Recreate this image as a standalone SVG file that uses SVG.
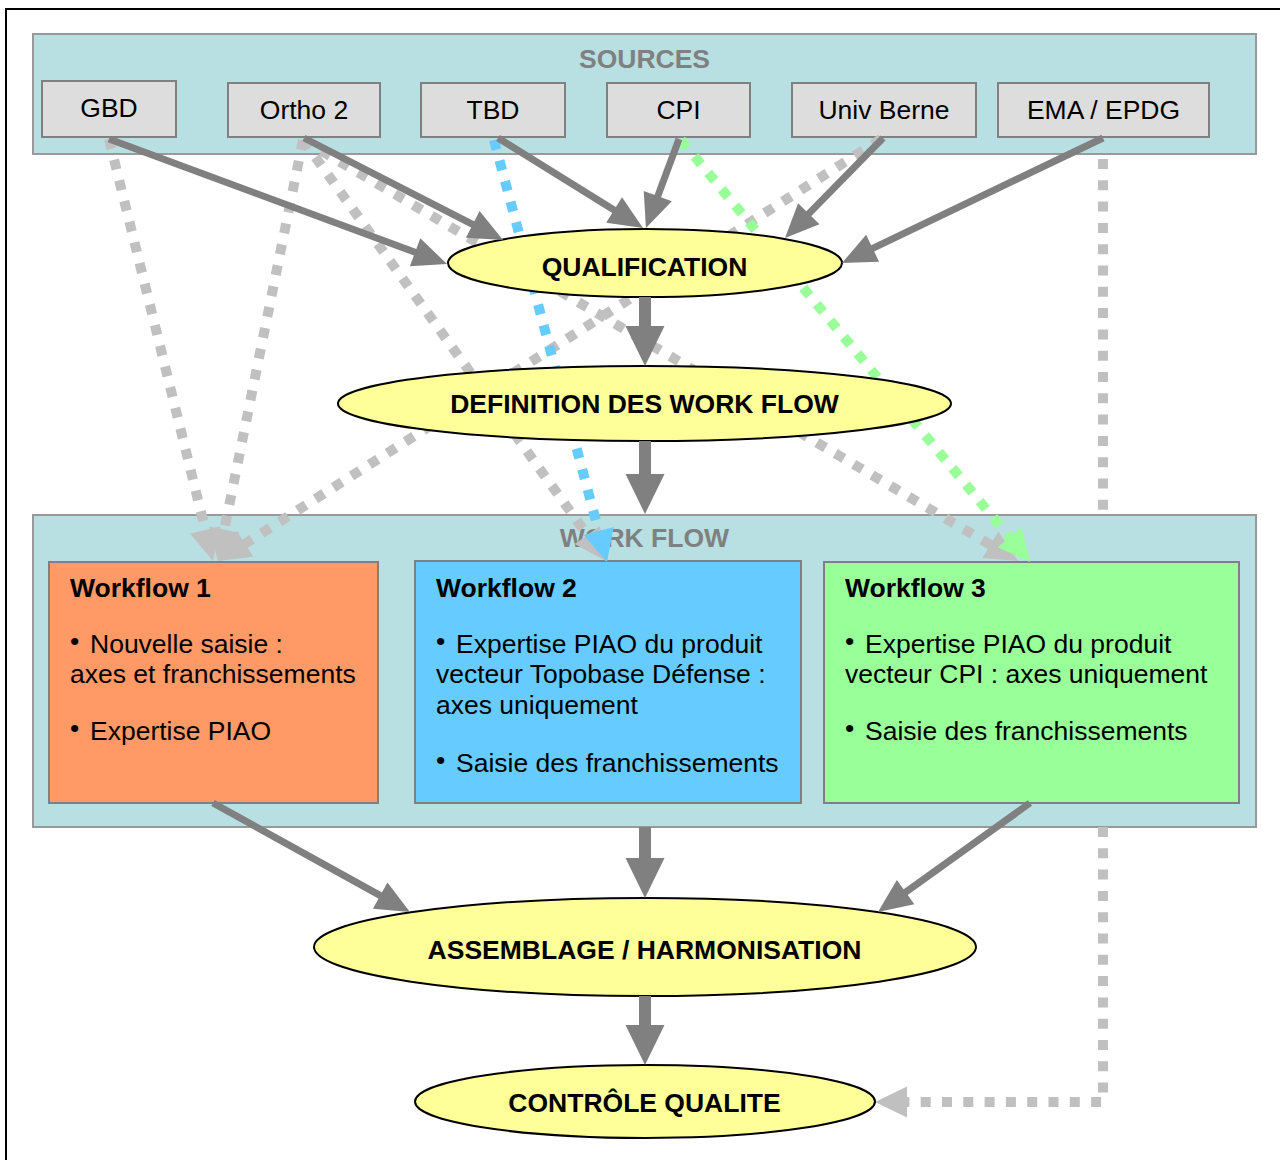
<svg xmlns="http://www.w3.org/2000/svg" width="1280" height="1160" viewBox="0 0 1280 1160">
<style>
text{font-family:"Liberation Sans",Arial,sans-serif;font-size:26.5px;fill:#000}
.b{font-weight:bold}
.c{text-anchor:middle}
.grp{fill:#808080;font-weight:bold;text-anchor:middle}
.cont{fill:#B8DFE2;stroke:#999999;stroke-width:2}
.src{fill:#DDDDDD;stroke:#808080;stroke-width:2}
.ell{fill:#FFFF99;stroke:#000;stroke-width:2}
.wf{stroke:#808080;stroke-width:2}
.sol{stroke:#808080;stroke-width:7;fill:none;marker-end:url(#mS)}
.big{stroke:#808080;stroke-width:12;fill:none;marker-end:url(#mB)}
.dot{stroke-width:10;fill:none;stroke-dasharray:10 11.3}
.dg{stroke:#C0C0C0;marker-end:url(#mG)}
.db{stroke:#66CCFF;marker-end:url(#mBl)}
.dn{stroke:#99FF99;marker-end:url(#mGr)}
</style>
<defs>
<marker id="mS" markerUnits="userSpaceOnUse" markerWidth="34" markerHeight="30" refX="8" refY="15" orient="auto" overflow="visible"><path d="M0,0 L34,15 L0,30 z" fill="#808080"/></marker>
<marker id="mB" markerUnits="userSpaceOnUse" markerWidth="40" markerHeight="39" refX="8" refY="19.5" orient="auto" overflow="visible"><path d="M0,0 L40,19.5 L0,39 z" fill="#808080"/></marker>
<marker id="mG" markerUnits="userSpaceOnUse" markerWidth="32" markerHeight="31" refX="6" refY="15.5" orient="auto" overflow="visible"><path d="M0,0 L32,15.5 L0,31 z" fill="#C0C0C0"/></marker>
<marker id="mBl" markerUnits="userSpaceOnUse" markerWidth="32" markerHeight="31" refX="6" refY="15.5" orient="auto" overflow="visible"><path d="M0,0 L32,15.5 L0,31 z" fill="#66CCFF"/></marker>
<marker id="mGr" markerUnits="userSpaceOnUse" markerWidth="32" markerHeight="31" refX="6" refY="15.5" orient="auto" overflow="visible"><path d="M0,0 L32,15.5 L0,31 z" fill="#99FF99"/></marker>
</defs>
<rect x="0" y="0" width="1280" height="1160" fill="#fff"/>
<rect x="6" y="9" width="1290" height="1170" fill="none" stroke="#000" stroke-width="2"/>

<g id="sources">
<rect class="cont" x="33" y="34" width="1223" height="120"/>
<text class="grp" x="644.5" y="68">SOURCES</text>
</g>
<g id="gbd"><rect class="src" x="42" y="81" width="134" height="56"/><text class="c" x="109" y="117">GBD</text></g>
<g id="ortho2"><rect class="src" x="228" y="83" width="152" height="54"/><text class="c" x="304" y="119">Ortho 2</text></g>
<g id="tbd"><rect class="src" x="421" y="83" width="144" height="54"/><text class="c" x="493" y="119">TBD</text></g>
<g id="cpi"><rect class="src" x="607" y="83" width="143" height="54"/><text class="c" x="678.5" y="119">CPI</text></g>
<g id="univberne"><rect class="src" x="792" y="83" width="184" height="54"/><text class="c" x="884" y="119">Univ Berne</text></g>
<g id="emaepdg"><rect class="src" x="998" y="83" width="211" height="54"/><text class="c" x="1103.5" y="119">EMA / EPDG</text></g>

<g id="workflow">
<rect class="cont" x="33" y="515" width="1223" height="312"/>
<text class="grp" x="644.5" y="547">WORK FLOW</text>
</g>
<g id="wf1">
<rect class="wf" x="49" y="562" width="329" height="241" fill="#FF9966"/>
<text class="b" x="70" y="597">Workflow 1</text>
<text x="70" y="650">•</text><text x="90" y="653">Nouvelle saisie :</text>
<text x="70" y="683">axes et franchissements</text>
<text x="70" y="737">•</text><text x="90" y="740">Expertise PIAO</text>
</g>
<g id="wf2">
<rect class="wf" x="415" y="561" width="386" height="242" fill="#66CCFF"/>
<text class="b" x="436" y="597">Workflow 2</text>
<text x="436" y="650">•</text><text x="456" y="653">Expertise PIAO du produit</text>
<text x="436" y="683">vecteur Topobase Défense :</text>
<text x="436" y="714">axes uniquement</text>
<text x="436" y="769">•</text><text x="456" y="772">Saisie des franchissements</text>
</g>
<g id="wf3">
<rect class="wf" x="824" y="562" width="415" height="241" fill="#99FF99"/>
<text class="b" x="845" y="597">Workflow 3</text>
<text x="845" y="650">•</text><text x="865" y="653">Expertise PIAO du produit</text>
<text x="845" y="683">vecteur CPI : axes uniquement</text>
<text x="845" y="737">•</text><text x="865" y="740">Saisie des franchissements</text>
</g>

<g id="connectors-dotted">
<path class="dot dg" d="M109,139 L206.8,535.8"/>
<path class="dot dg" d="M303,140 L223.1,535.5"/>
<path class="dot dg" d="M881,139 L239.9,547"/>
<path class="dot dg" d="M303,140 L590.8,539.9"/>
<path class="dot dg" d="M303,140 L995.6,547.8"/>
<path class="dot db" d="M494,140 L600.3,536.9"/>
<path class="dot dn" d="M681,140 L1013.4,542"/>
<path class="dot dg" d="M1103,159 V514 M1103,827 V1102 H901"/>
</g>

<g id="qualification"><ellipse class="ell" cx="645" cy="263" rx="197" ry="34"/><text class="b c" x="644.5" y="276">QUALIFICATION</text></g>
<g id="definition"><ellipse class="ell" cx="644.5" cy="403.5" rx="306.5" ry="37.5"/><text class="b c" x="644.5" y="413">DEFINITION DES WORK FLOW</text></g>
<g id="assemblage"><ellipse class="ell" cx="645" cy="947" rx="331" ry="49"/><text class="b c" x="644.5" y="959">ASSEMBLAGE / HARMONISATION</text></g>
<g id="controle"><ellipse class="ell" cx="645" cy="1101.5" rx="230" ry="36.5"/><text class="b c" x="644.5" y="1112">CONTRÔLE QUALITE</text></g>

<g id="connectors">
<path class="sol" d="M109,139 L422.6,255"/>
<path class="sol" d="M304,138 L479.9,228.1"/>
<path class="sol" d="M498,138 L620.9,214.3"/>
<path class="sol" d="M679,139 L655,203.6"/>
<path class="sol" d="M883,138 L803.2,219.4"/>
<path class="sol" d="M1103,138 L865.4,251.8"/>
<path class="sol" d="M213,803 L387.2,899.4"/>
<path class="sol" d="M1030,803 L899.1,896.8"/>
<path class="big" d="M645,297 V334"/>
<path class="big" d="M645,441 V482"/>
<path class="big" d="M645,827 V866"/>
<path class="big" d="M645,996 V1033"/>
</g>
</svg>
